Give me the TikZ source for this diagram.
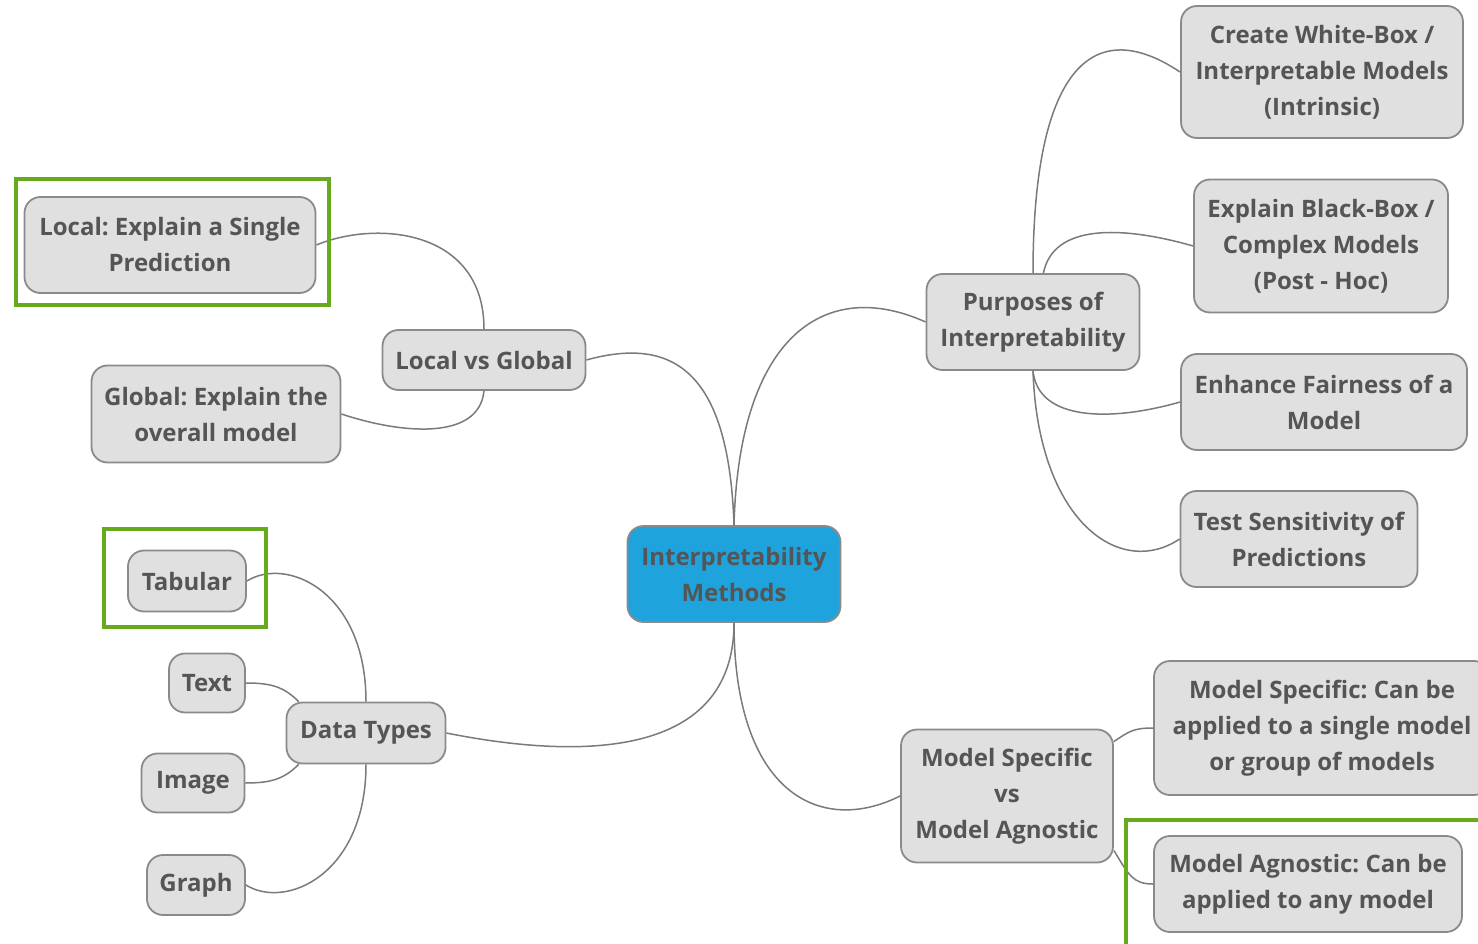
\documentclass[tikz,border=0pt]{standalone}
\usepackage{fontspec}
\setmainfont{Open Sans}
\frenchspacing
\definecolor{boxfill}{HTML}{E0E0E0}
\definecolor{boxline}{HTML}{8A8A8A}
\definecolor{textgrey}{HTML}{555555}
\definecolor{linegrey}{HTML}{7A7A7A}
\definecolor{rootblue}{HTML}{1FA3DD}
\definecolor{hlgreen}{HTML}{66AA1E}
\begin{document}
\begin{tikzpicture}[x=1pt,y=-1pt,
  topic/.style={draw=boxline,fill=boxfill,rounded corners=16pt,line width=1.8pt,
    text=textgrey,font=\bfseries\fontsize{24}{36}\selectfont,align=center,inner sep=0pt},
  root/.style={topic,fill=rootblue},
  branch/.style={draw=linegrey,line width=1.5pt},
  hilite/.style={draw=hlgreen,line width=4.5pt}]
  \useasboundingbox (0,0) rectangle (1478,944);
  \clip (0,0) rectangle (1478,944);
  % Centre
  \node[root,minimum width=213,minimum height=96] (root) at (734,574) {Interpretability\\Methods};
  % Local vs Global
  \node[topic,minimum width=203,minimum height=60] (lvg) at (484,360) {Local vs Global};
  \node[topic,minimum width=291,minimum height=96] (loc) at (170,245) {Local: Explain a Single\\Prediction};
  \node[topic,minimum width=249,minimum height=97] (glob) at (216,414) {Global: Explain the\\overall model};
  % Data Types
  \node[topic,minimum width=159,minimum height=61] (dt) at (366,733) {Data Types};
  \node[topic,minimum width=118,minimum height=61] (tab) at (187,581) {Tabular};
  \node[topic,minimum width=76,minimum height=59] (txt) at (207,683) {Text};
  \node[topic,minimum width=103,minimum height=59] (img) at (193,783) {Image};
  \node[topic,minimum width=98,minimum height=60] (gra) at (196,885) {Graph};
  % Purposes
  \node[topic,minimum width=213,minimum height=96] (pur) at (1033,322) {Purposes of\\Interpretability};
  \node[topic,minimum width=282,minimum height=132] (cwb) at (1322,72) {Create White-Box /\\Interpretable Models\\(Intrinsic)};
  \node[topic,minimum width=254,minimum height=133] (ebb) at (1321,246) {Explain Black-Box /\\Complex Models\\(Post - Hoc)};
  \node[topic,minimum width=286,minimum height=96] (fair) at (1324,402) {Enhance Fairness of a\\Model};
  \node[topic,minimum width=237,minimum height=96] (sens) at (1299,539) {Test Sensitivity of\\Predictions};
  % Specific vs Agnostic
  \node[topic,minimum width=212,minimum height=133] (msa) at (1007,796) {Model Specific\\vs\\Model Agnostic};
  \node[topic,minimum width=336,minimum height=134] (spec) at (1322,728) {Model Specific: Can be\\applied to a single model\\or group of models};
  \node[topic,minimum width=308,minimum height=96] (agn) at (1308,884) {Model Agnostic: Can be\\applied to any model};

  % Branches
  \draw[branch] (root.north) .. controls +(-5,-150) and +(90,-25) .. (lvg.east);
  \draw[branch] (root.north) .. controls +(5,-190) and +(-100,-45) .. (pur.west);
  \draw[branch] (root.south) .. controls +(0,150) and +(100,20) .. (dt.east);
  \draw[branch] (root.south) .. controls +(0,170) and +(-80,40) .. (msa.west);
  \draw[branch] (lvg.north) .. controls +(0,-100) and +(60,-25) .. (loc.east);
  \draw[branch] (lvg.south) .. controls +(-5,50) and +(60,20) .. (glob.east);
  \draw[branch] (dt.north) .. controls +(0,-110) and +(40,-25) .. (tab.east);
  \draw[branch] (dt.155) .. controls +(-15,-15) and +(25,0) .. (txt.east);
  \draw[branch] (dt.205) .. controls +(-15,15) and +(25,0) .. (img.east);
  \draw[branch] (dt.south) .. controls +(0,110) and +(40,25) .. (gra.east);
  \draw[branch] (pur.north) .. controls +(0,-200) and +(-90,-60) .. (cwb.west);
  \draw[branch] (pur.78) .. controls +(10,-50) and +(-70,-20) .. (ebb.west);
  \draw[branch] (pur.south) .. controls +(5,50) and +(-70,20) .. (fair.west);
  \draw[branch] (pur.south) .. controls +(5,150) and +(-60,40) .. (sens.west);
  \draw[branch] (msa.27) .. controls +(15,-10) and +(-20,0) .. (spec.west);
  \draw[branch] (msa.-27) .. controls +(15,25) and +(-20,0) .. (agn.west);

  % Highlights
  \draw[hilite] (16,179) rectangle (329,305);
  \draw[hilite] (104,529) rectangle (266,627);
  \draw[hilite] (1126,820) rectangle (1500,960);
\end{tikzpicture}
\end{document}
